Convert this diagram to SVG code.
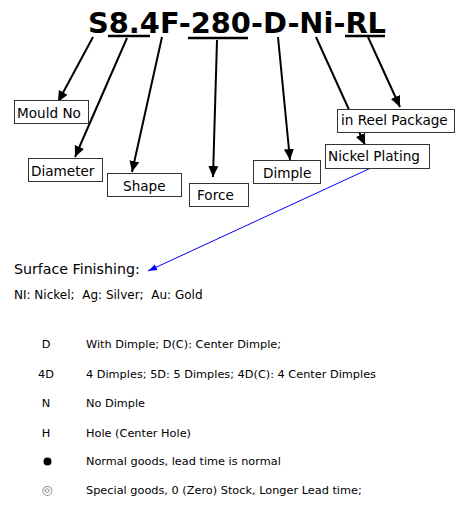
<svg xmlns="http://www.w3.org/2000/svg" width="466" height="517" viewBox="0 0 466 517">
<style>
.t{font-family:"DejaVu Sans",Verdana,sans-serif;fill:#000}
.lbl{font-size:13.6px}
.box{fill:#fff;stroke:#333;stroke-width:1}
.ar{stroke:#000;stroke-width:2;fill:none;marker-end:url(#ah)}
.row{font-size:11.3px}
</style>
<defs>
<marker id="ah" markerUnits="userSpaceOnUse" markerWidth="12" markerHeight="12" refX="11" refY="6" orient="auto"><path d="M0,1 L11,6 L0,11 Z" fill="#000"/></marker>
<marker id="bh" markerUnits="userSpaceOnUse" markerWidth="10" markerHeight="8" refX="9" refY="4" orient="auto"><path d="M0,1 L9,4 L0,7 Z" fill="#0000ff"/></marker>
</defs>
<g id="title">
<text class="t" x="88" y="33" font-size="29" font-weight="bold" textLength="298" lengthAdjust="spacingAndGlyphs">S8.4F-280-D-Ni-RL</text>
<line x1="108" y1="36" x2="150" y2="36" stroke="#000" stroke-width="2.5"/>
<line x1="188" y1="38" x2="248" y2="38" stroke="#000" stroke-width="2.5"/>
<line x1="345" y1="36" x2="385" y2="36" stroke="#000" stroke-width="2.5"/>
</g>
<g id="connectors">
<line class="ar" x1="93" y1="37" x2="58" y2="102"/>
<line class="ar" x1="127" y1="38" x2="75" y2="157"/>
<line class="ar" x1="162" y1="37" x2="132" y2="172"/>
<line class="ar" x1="217" y1="40" x2="213" y2="177"/>
<line class="ar" x1="278" y1="37" x2="290" y2="160"/>
<line class="ar" x1="316" y1="37" x2="365" y2="145"/>
<line class="ar" x1="368" y1="37" x2="400" y2="107"/>
<line x1="373" y1="167" x2="148" y2="271" stroke="#0000ff" stroke-width="1" marker-end="url(#bh)"/>
</g>
<g id="mould"><rect class="box" x="14.5" y="100.5" width="74" height="23"/><text class="t lbl" x="17" y="118">Mould No</text></g>
<g id="diameter"><rect class="box" x="28.5" y="158.5" width="74" height="23"/><text class="t lbl" x="31" y="176">Diameter</text></g>
<g id="shape"><rect class="box" x="107.5" y="173.5" width="74" height="23"/><text class="t lbl" x="123" y="191">Shape</text></g>
<g id="force"><rect class="box" x="189.5" y="183.5" width="59" height="23"/><text class="t lbl" x="197" y="200">Force</text></g>
<g id="dimple"><rect class="box" x="253.5" y="160.5" width="67" height="23"/><text class="t lbl" x="263" y="178">Dimple</text></g>
<g id="reel"><rect class="box" x="337.5" y="109.5" width="117" height="23"/><text class="t lbl" x="341" y="125">in Reel Package</text></g>
<g id="nickel"><rect class="box" x="325.5" y="144.5" width="104" height="24"/><text class="t lbl" x="328" y="161">Nickel Plating</text></g>
<g id="legend">
<text class="t" x="14" y="274" font-size="14.2">Surface Finishing:</text>
<text class="t" x="14" y="299" font-size="12" style="white-space:pre" xml:space="preserve">NI: Nickel;  Ag: Silver;  Au: Gold</text>
<g class="t row">
<text x="46" y="348" text-anchor="middle">D</text><text x="86" y="348">With Dimple; D(C): Center Dimple;</text>
<text x="46" y="378" text-anchor="middle">4D</text><text x="86" y="378">4 Dimples; 5D: 5 Dimples; 4D(C): 4 Center Dimples</text>
<text x="46" y="407" text-anchor="middle">N</text><text x="86" y="407">No Dimple</text>
<text x="46" y="437" text-anchor="middle">H</text><text x="86" y="437">Hole (Center Hole)</text>
<text x="86" y="465">Normal goods, lead time is normal</text>
<text x="86" y="494">Special goods, 0 (Zero) Stock, Longer Lead time;</text>
</g>
<circle cx="47.5" cy="461.5" r="4"/>
<text class="t" x="47" y="494" font-size="12.5" text-anchor="middle" style="fill:#777">◎</text>
</g>
</svg>
